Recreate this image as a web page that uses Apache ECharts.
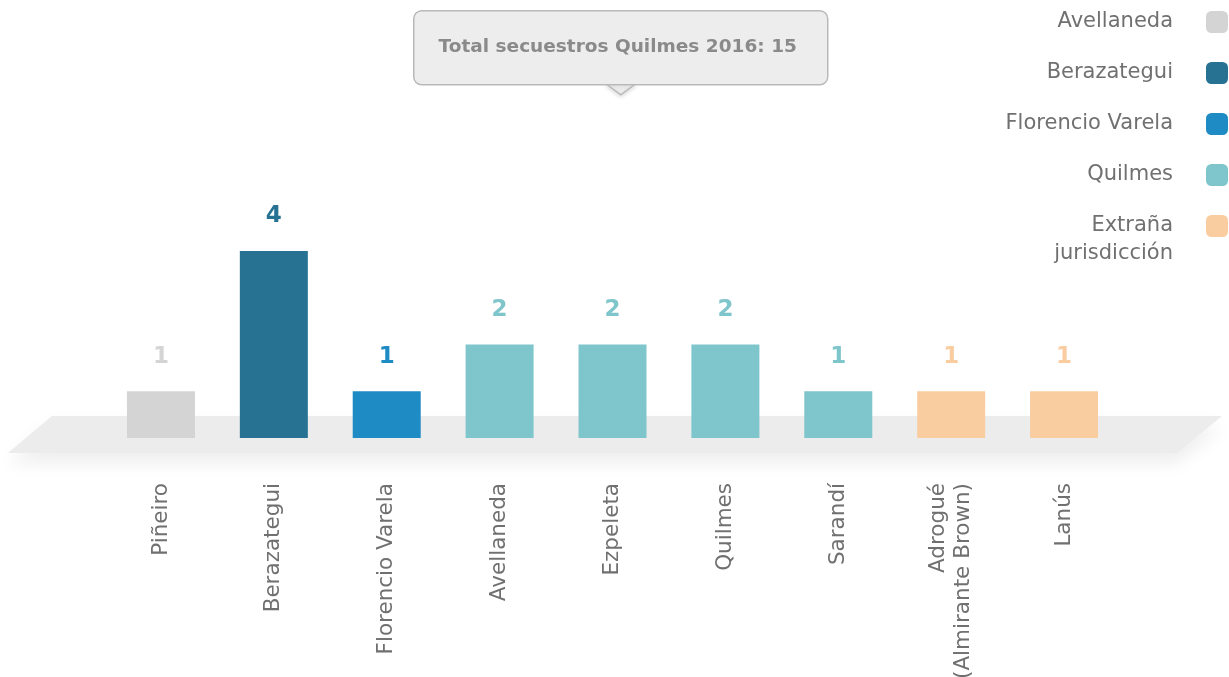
<!DOCTYPE html>
<html>
<head>
<meta charset="utf-8">
<script src="https://cdn.jsdelivr.net/npm/echarts@6/dist/echarts.min.js"></script>
<style>
  html, body { margin: 0; padding: 0; background: #fff; }
  #chart { width: 1229px; height: 677px; }
</style>
</head>
<body>
<div id="chart"></div>
<script>
"use strict";

// ── Datos ──────────────────────────────────────────────────────────────────
const categories = ["Piñeiro", "Berazategui", "Florencio Varela", "Avellaneda", "Ezpeleta",
                    "Quilmes", "Sarandí", "Adrogué\n(Almirante Brown)", "Lanús"];
const values = [1, 4, 1, 2, 2, 2, 1, 1, 1];
const groupOf = ["Avellaneda", "Berazategui", "Florencio Varela", "Quilmes", "Quilmes",
                 "Quilmes", "Quilmes", "Extraña jurisdicción", "Extraña jurisdicción"];
const groups = ["Avellaneda", "Berazategui", "Florencio Varela", "Quilmes", "Extraña jurisdicción"];
const groupColors = ["#d4d4d4", "#277192", "#1e8bc5", "#7fc5cc", "#f9cda0"];

const FONT = "'DejaVu Sans', sans-serif";
const TEXT_GRAY = "#707070";

const total = values.reduce((a, b) => a + b, 0);

// ── Series: una por jurisdicción, apiladas para compartir posición ─────────
const series = groups.map((g, gi) => ({
  name: g,
  type: "bar",
  stack: "all",
  barWidth: 68,
  data: values.map((v, i) => (groupOf[i] === g ? v : "-")),
  itemStyle: { color: groupColors[gi] },
  label: {
    show: true, position: "top", distance: 23,
    fontFamily: FONT, fontWeight: "bold", fontSize: 23,
    color: groupColors[gi],
  },
  emphasis: { disabled: true },
}));

// leyenda base (la última entrada va aparte por sus dos líneas)
function legendBase(extra) {
  return Object.assign({
    orient: "vertical", right: 1, padding: 0,
    align: "right",
    itemWidth: 22, itemHeight: 22, itemGap: 23,
    icon: "roundRect",
    selectedMode: false,
  }, extra);
}
const legendText = { fontFamily: FONT, fontSize: 21, color: TEXT_GRAY, padding: [0, 28, 0, 0], lineHeight: 28 };

const chart = echarts.init(document.getElementById("chart"), null, { renderer: "canvas" });

chart.setOption({
  animation: false,
  grid: { left: 104.5, right: 108.5, top: 251, bottom: 239, outerBoundsMode: "none", containLabel: false },
  legend: [
    legendBase({ top: 8, data: groups.slice(0, 4), textStyle: legendText }),
    legendBase({
      top: 184,
      data: groups.slice(4),
      // línea vacía arriba para que "Extraña" quede alineada con el cuadrado
      formatter: n => " \n" + n.replace(" ", "\n"),
      textStyle: legendText,
    }),
  ],
  xAxis: {
    type: "category",
    data: categories,
    axisLine: { show: false }, axisTick: { show: false },
    axisLabel: {
      rotate: 90, margin: 45, interval: 0,
      fontFamily: FONT, fontSize: 21.5, color: TEXT_GRAY, lineHeight: 25,
    },
  },
  yAxis: { type: "value", min: 0, max: 4, show: false },
  graphic: [
    {
      // plataforma gris bajo las barras
      type: "polygon", z: -10, silent: true,
      shape: { points: [[52, 416], [1222, 416], [1177, 453], [8, 453]] },
      style: { fill: "#ececec", shadowColor: "rgba(0,0,0,0.07)", shadowBlur: 18, shadowOffsetY: 10 },
    },
    {
      type: "group", left: 413, top: 10, silent: true,
      children: [
        {
          type: "polygon",
          shape: { points: [[192, 73], [207, 84], [222, 73]] },
          style: { fill: "#ecedec", stroke: "#b9b9b9", lineWidth: 1.5, shadowColor: "rgba(0,0,0,0.12)", shadowBlur: 4, shadowOffsetY: 2 },
        },
        {
          type: "rect",
          shape: { x: 0, y: 0, width: 414, height: 74, r: 8 },
          style: { fill: "#ecedec", stroke: "#b9b9b9", lineWidth: 1.5 },
        },
        {
          type: "rect",
          shape: { x: 193, y: 70, width: 28, height: 3 },
          style: { fill: "#ecedec" },
        },
        {
          type: "text", x: 204, y: 36,
          style: {
            text: "Total secuestros Quilmes 2016: " + total,
            fontFamily: FONT, fontWeight: "bold", fontSize: 18.5, fill: "#8a8a8a",
            align: "center", verticalAlign: "middle",
          },
        },
      ],
    },
  ],
  series,
});
</script>
</body>
</html>
